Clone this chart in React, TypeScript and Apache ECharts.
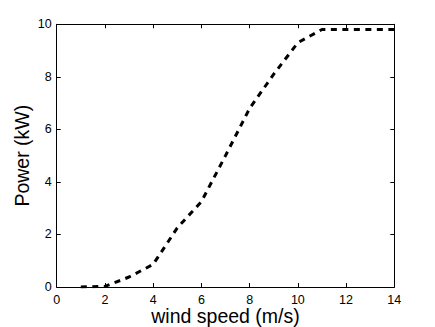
import React, { useEffect, useRef } from "react";
import * as echarts from "echarts";

const windSpeed = [1, 2, 3, 4, 5, 6, 7, 8, 9, 10, 11, 12, 13, 14];
const power = [0, 0.02, 0.38, 0.86, 2.25, 3.25, 5.0, 6.8, 8.1, 9.3, 9.8, 9.8, 9.8, 9.8];
const xTicks = [0, 2, 4, 6, 8, 10, 12, 14];
const yTicks = [0, 2, 4, 6, 8, 10];

export default function App() {
  const ref = useRef<HTMLDivElement>(null);
  useEffect(() => {
    if (!ref.current) return;
    const chart = echarts.init(ref.current, undefined, { renderer: "svg" });
    const font = "'Liberation Sans', Arial, Helvetica, sans-serif";
    const axisLine = { show: true, onZero: false, lineStyle: { color: "#000", width: 1 } };
    const tick = { show: true, inside: true, length: 4, lineStyle: { color: "#000", width: 1 } };
    chart.setOption({
      animation: false,
      backgroundColor: "#fff",
      grid: {
        left: 56.7,
        right: 40.7,
        top: 24.3,
        bottom: 40,
        containLabel: false,
        outerBoundsMode: "none",
      },
      xAxis: [
        {
          type: "value",
          min: xTicks[0],
          max: xTicks[xTicks.length - 1],
          interval: 2,
          name: "wind speed (m/s)",
          nameLocation: "middle",
          nameGap: 19,
          nameMoveOverlap: false,
          nameTextStyle: { fontSize: 19.5, color: "#000", fontFamily: font },
          axisLine,
          axisTick: tick,
          axisLabel: { fontSize: 12.5, color: "#000", fontFamily: font, margin: 6 },
          splitLine: { show: false },
        },
        {
          type: "value",
          position: "top",
          min: xTicks[0],
          max: xTicks[xTicks.length - 1],
          interval: 2,
          axisLine,
          axisTick: tick,
          axisLabel: { show: false },
          splitLine: { show: false },
        },
      ],
      yAxis: [
        {
          type: "value",
          min: yTicks[0],
          max: yTicks[yTicks.length - 1],
          interval: 2,
          name: "Power (kW)",
          nameLocation: "middle",
          nameGap: 25,
          nameMoveOverlap: false,
          nameTextStyle: { fontSize: 19.5, color: "#000", fontFamily: font },
          axisLine,
          axisTick: tick,
          axisLabel: { fontSize: 12.5, color: "#000", fontFamily: font, margin: 5 },
          splitLine: { show: false },
        },
        {
          type: "value",
          position: "right",
          min: yTicks[0],
          max: yTicks[yTicks.length - 1],
          interval: 2,
          axisLine,
          axisTick: tick,
          axisLabel: { show: false },
          splitLine: { show: false },
        },
      ],
      series: [
        {
          type: "line",
          data: windSpeed.map((x, i) => [x, power[i]]),
          showSymbol: false,
          lineStyle: { color: "#000", width: 3, type: [6, 5.5], cap: "butt" },
          xAxisIndex: 0,
          yAxisIndex: 0,
        },
      ],
    });
    return () => chart.dispose();
  }, []);
  return <div ref={ref} style={{ width: 435, height: 327, position: "absolute", left: 0, top: 0 }} />;
}
